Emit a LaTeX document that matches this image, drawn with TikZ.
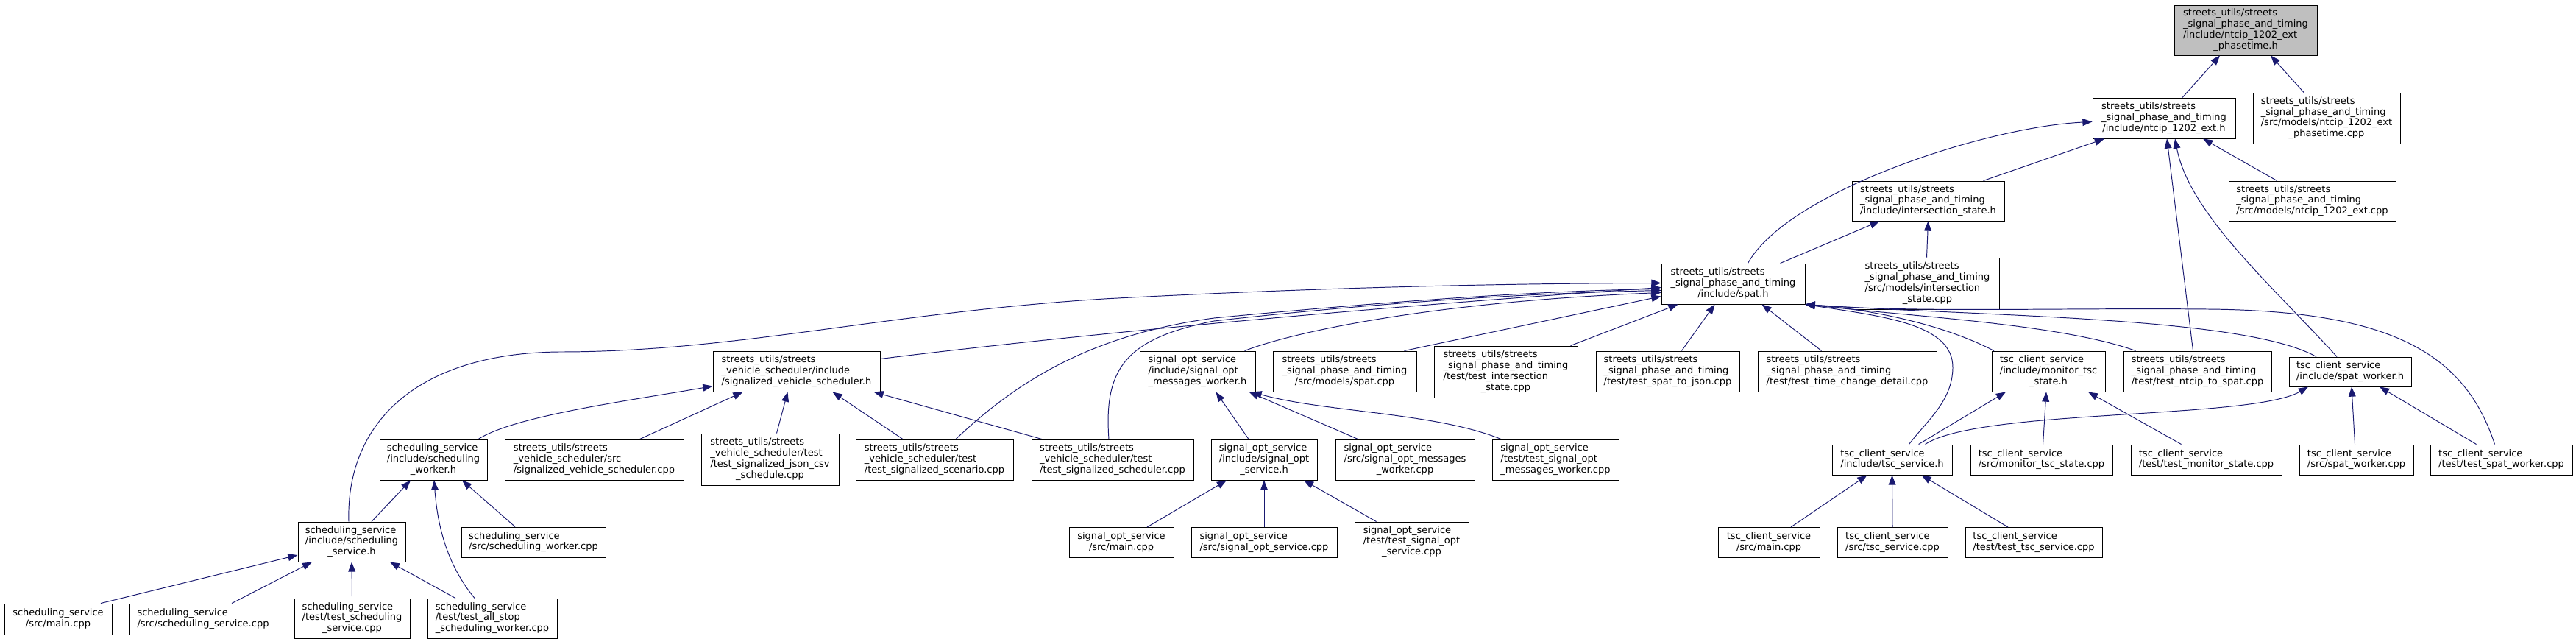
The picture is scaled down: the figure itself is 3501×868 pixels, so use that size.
\documentclass[tikz,border=0pt]{standalone}
\usepackage{fontspec}
\setmainfont{DejaVu Sans}
\usetikzlibrary{arrows.meta,calc}
\definecolor{dnavy}{HTML}{191970}
\definecolor{dgrey}{HTML}{BFBFBF}
\newcommand{\fl}[2]{\begin{tabular}{@{}l@{}}#1\\\multicolumn{1}{@{}c@{}}{#2}\end{tabular}}
\tikzset{
  file/.style={draw=black,fill=white,line width=0.55pt,inner sep=0pt,font=\fontsize{7.4}{8.4}\selectfont},
  root/.style={file,fill=dgrey},
  sz/.style 2 args={minimum width=#1*0.02cm,minimum height=#2*0.02cm},
  dep/.style={{Triangle[length=7.5pt,width=5.6pt]}-,line width=0.55pt,draw=dnavy},
}
\begin{document}
\begin{tikzpicture}[x=0.02cm,y=-0.02cm]
  \useasboundingbox (0,0) rectangle (3501,868);
  % --- top
  \node[root,sz={194}{68}] (ptime) at (3052,41) {\fl{streets\_utils/streets\\\_signal\_phase\_and\_timing\\/include/ntcip\_1202\_ext}{\_phasetime.h}};
  \node[file,sz={194}{55}] (exth) at (2941,160.5) {\fl{streets\_utils/streets\\\_signal\_phase\_and\_timing}{/include/ntcip\_1202\_ext.h}};
  \node[file,sz={200}{69}] (extptcpp) at (3162,160.5) {\fl{streets\_utils/streets\\\_signal\_phase\_and\_timing\\/src/models/ntcip\_1202\_ext}{\_phasetime.cpp}};
  \node[file,sz={207}{54}] (interh) at (2620.5,273) {\fl{streets\_utils/streets\\\_signal\_phase\_and\_timing}{/include/intersection\_state.h}};
  \node[file,sz={227}{54}] (extcpp) at (3142.5,273) {\fl{streets\_utils/streets\\\_signal\_phase\_and\_timing}{/src/models/ntcip\_1202\_ext.cpp}};
  \node[file,sz={195}{55}] (spath) at (2355.5,385.5) {\fl{streets\_utils/streets\\\_signal\_phase\_and\_timing}{/include/spat.h}};
  \node[file,sz={195}{70}] (intercpp) at (2619.5,385) {\fl{streets\_utils/streets\\\_signal\_phase\_and\_timing\\/src/models/intersection}{\_state.cpp}};
  % --- row under spat.h
  \node[file,sz={227}{55}] (svsh) at (1082.5,504.5) {\fl{streets\_utils/streets\\\_vehicle\_scheduler/include}{/signalized\_vehicle\_scheduler.h}};
  \node[file,sz={157}{55}] (somsgh) at (1627.5,504.5) {\fl{signal\_opt\_service\\/include/signal\_opt}{\_messages\_worker.h}};
  \node[file,sz={195}{55}] (spatcpp) at (1827.5,504.5) {\fl{streets\_utils/streets\\\_signal\_phase\_and\_timing}{/src/models/spat.cpp}};
  \node[file,sz={195}{70}] (tinter) at (2046.5,505) {\fl{streets\_utils/streets\\\_signal\_phase\_and\_timing\\/test/test\_intersection}{\_state.cpp}};
  \node[file,sz={195}{55}] (ts2j) at (2266.5,504.5) {\fl{streets\_utils/streets\\\_signal\_phase\_and\_timing}{/test/test\_spat\_to\_json.cpp}};
  \node[file,sz={243}{55}] (ttcd) at (2510.5,504.5) {\fl{streets\_utils/streets\\\_signal\_phase\_and\_timing}{/test/test\_time\_change\_detail.cpp}};
  \node[file,sz={154}{55}] (monh) at (2784,504.5) {\fl{tsc\_client\_service\\/include/monitor\_tsc}{\_state.h}};
  \node[file,sz={201}{55}] (tn2s) at (2986.5,504.5) {\fl{streets\_utils/streets\\\_signal\_phase\_and\_timing}{/test/test\_ntcip\_to\_spat.cpp}};
  \node[file,sz={166}{40}] (swh) at (3194,505) {\fl{tsc\_client\_service}{/include/spat\_worker.h}};
  % --- middle row
  \node[file,sz={146}{55}] (ssworkh) at (589,624.5) {\fl{scheduling\_service\\/include/scheduling}{\_worker.h}};
  \node[file,sz={243}{55}] (svssrc) at (807.5,624.5) {\fl{streets\_utils/streets\\\_vehicle\_scheduler/src}{/signalized\_vehicle\_scheduler.cpp}};
  \node[file,sz={187}{70}] (svsjson) at (1046.5,624) {\fl{streets\_utils/streets\\\_vehicle\_scheduler/test\\/test\_signalized\_json\_csv}{\_schedule.cpp}};
  \node[file,sz={214}{55}] (svsscen) at (1270,624.5) {\fl{streets\_utils/streets\\\_vehicle\_scheduler/test}{/test\_signalized\_scenario.cpp}};
  \node[file,sz={220}{55}] (svssched) at (1512,624.5) {\fl{streets\_utils/streets\\\_vehicle\_scheduler/test}{/test\_signalized\_scheduler.cpp}};
  \node[file,sz={144}{55}] (sosvch) at (1718,624.5) {\fl{signal\_opt\_service\\/include/signal\_opt}{\_service.h}};
  \node[file,sz={189}{55}] (somsgcpp) at (1909.5,624.5) {\fl{signal\_opt\_service\\/src/signal\_opt\_messages}{\_worker.cpp}};
  \node[file,sz={172}{55}] (sotmsg) at (2114,624.5) {\fl{signal\_opt\_service\\/test/test\_signal\_opt}{\_messages\_worker.cpp}};
  \node[file,sz={163}{41}] (tscsvch) at (2571.5,624.5) {\fl{tsc\_client\_service}{/include/tsc\_service.h}};
  \node[file,sz={193}{41}] (moncpp) at (2774.5,624.5) {\fl{tsc\_client\_service}{/src/monitor\_tsc\_state.cpp}};
  \node[file,sz={205}{41}] (tmon) at (2998.5,624.5) {\fl{tsc\_client\_service}{/test/test\_monitor\_state.cpp}};
  \node[file,sz={155}{41}] (swcpp) at (3202.5,624.5) {\fl{tsc\_client\_service}{/src/spat\_worker.cpp}};
  \node[file,sz={193}{41}] (tsw) at (3399.5,624.5) {\fl{tsc\_client\_service}{/test/test\_spat\_worker.cpp}};
  % --- lower row
  \node[file,sz={146}{54}] (sssvch) at (478,736) {\fl{scheduling\_service\\/include/scheduling}{\_service.h}};
  \node[file,sz={196}{41}] (ssworkcpp) at (725,736.5) {\fl{scheduling\_service}{/src/scheduling\_worker.cpp}};
  \node[file,sz={142}{41}] (somain) at (1524,737) {\fl{signal\_opt\_service}{/src/main.cpp}};
  \node[file,sz={198}{41}] (sosvccpp) at (1718,737) {\fl{signal\_opt\_service}{/src/signal\_opt\_service.cpp}};
  \node[file,sz={155}{54}] (sotsvc) at (1918.5,736) {\fl{signal\_opt\_service\\/test/test\_signal\_opt}{\_service.cpp}};
  \node[file,sz={138}{41}] (tscmain) at (2404,737) {\fl{tsc\_client\_service}{/src/main.cpp}};
  \node[file,sz={150}{41}] (tscsvccpp) at (2572,737) {\fl{tsc\_client\_service}{/src/tsc\_service.cpp}};
  \node[file,sz={186}{41}] (ttsc) at (2764,737) {\fl{tsc\_client\_service}{/test/test\_tsc\_service.cpp}};
  % --- bottom
  \node[file,sz={146}{42}] (ssmain) at (79,841) {\fl{scheduling\_service}{/src/main.cpp}};
  \node[file,sz={200}{42}] (sssvccpp) at (276,841) {\fl{scheduling\_service}{/src/scheduling\_service.cpp}};
  \node[file,sz={157}{54}] (sstsvc) at (478.5,840) {\fl{scheduling\_service\\/test/test\_scheduling}{\_service.cpp}};
  \node[file,sz={176}{54}] (ssallstop) at (669,840) {\fl{scheduling\_service\\/test/test\_all\_stop}{\_scheduling\_worker.cpp}};
  % straight includes, south -> north
  \foreach \p/\pd/\c/\cd in {ptime/-35/exth/25, ptime/34/extptcpp/-31, exth/-81/interh/75, exth/53/extcpp/-48,
      exth/4/tn2s/-6, interh/-66/spath/64, interh/0/intercpp/-1, spath/-75/tinter/88, spath/-25/ts2j/19,
      spath/39/ttcd/-35, monh/-58/tscsvch/36, monh/-3/moncpp/2, monh/54/tmon/-34, swh/2/swcpp/-2,
      swh/40/tsw/-34, tscsvch/-34/tscmain/30, tscsvch/0/tscsvccpp/0, tscsvch/40/ttsc/-35,
      somsgh/25/sosvch/-21, somsgh/70/somsgcpp/-64, sosvch/-51/somain/35, sosvch/0/sosvccpp/0,
      sosvch/54/sotsvc/-48, svsh/-73/svssrc/62, svsh/-12/svsjson/9, svsh/49/svsscen/-43,
      svsh/105/svssched/-96, ssworkh/-31/sssvch/27, ssworkh/39/ssworkcpp/-25, sssvch/-54/sssvccpp/39,
      sssvch/0/sstsvc/0, sssvch/52/ssallstop/-50}
    \draw[dep] ($(\p.south)+(\pd,0)$) -- ($(\c.north)+(\cd,0)$);
  % curved ones
  \draw[dep] ($(exth.west)+(0,5)$) .. controls (2700,172) and (2430,260) .. ($(spath.north)+(20,0)$);
  \draw[dep] ($(exth.south)+(15,0)$) .. controls (2975,290) and (3090,390) .. ($(swh.north)+(-18,0)$);
  \draw[dep] ($(spath.west)+(0,-1)$) .. controls (2050,385) and (1800,390) .. (1500,406) .. controls (1200,425) and (1000,478) .. (760,478) .. controls (560,480) and (470,580) .. ($(sssvch.north)+(-4,0)$);
  \draw[dep] ($(spath.west)+(0,5)$) .. controls (1900,415) and (1500,450) .. ($(svsh.east)+(0,-17)$);
  \draw[dep] ($(spath.west)+(0,7)$) .. controls (2100,395) and (1900,408) .. (1650,432) .. controls (1480,455) and (1380,520) .. ($(svsscen.north)+(29,0)$);
  \draw[dep] ($(spath.west)+(0,9)$) .. controls (2100,398) and (1900,408) .. (1650,436) .. controls (1530,460) and (1500,500) .. ($(svssched.north)+(-5,0)$);
  \draw[dep] ($(spath.west)+(0,12)$) .. controls (1950,410) and (1760,450) .. ($(somsgh.north)+(64,0)$);
  \draw[dep] ($(spath.west)+(0,17)$) -- ($(spatcpp.north)+(81,0)$);
  \draw[dep] (spath.south east) .. controls (2560,430) and (2655,440) .. (2654,500) .. controls (2653,545) and (2620,570) .. ($(tscsvch.north)+(23,0)$);
  \draw[dep] (spath.south east) .. controls (2540,420) and (2640,440) .. ($(monh.north)+(-74,0)$);
  \draw[dep] (spath.south east) .. controls (2600,430) and (2800,440) .. ($(tn2s.north)+(-84,0)$);
  \draw[dep] (spath.south east) .. controls (2700,430) and (3050,430) .. ($(swh.north)+(-46,0)$);
  \draw[dep] (spath.south east) .. controls (2600,425) and (2800,418) .. (3000,420) .. controls (3250,422) and (3350,480) .. ($(tsw.north)+(-9,0)$);
  \draw[dep] ($(swh.south)+(-57,0)$) .. controls (3060,570) and (2690,555) .. ($(tscsvch.north)+(45,0)$);
  \draw[dep] ($(somsgh.south)+(74,0)$) .. controls (1800,560) and (1950,560) .. ($(sotmsg.north)+(-74,0)$);
  \draw[dep] ($(svsh.west)+(0,20)$) .. controls (850,545) and (700,565) .. ($(ssworkh.north)+(61,0)$);
  \draw[dep] ($(ssworkh.south)+(1,0)$) .. controls (595,720) and (610,770) .. ($(ssallstop.north)+(-24,0)$);
  \draw[dep] ($(sssvch.west)+(0,18)$) -- ($(ssmain.north)+(58,0)$);
\end{tikzpicture}
\end{document}
